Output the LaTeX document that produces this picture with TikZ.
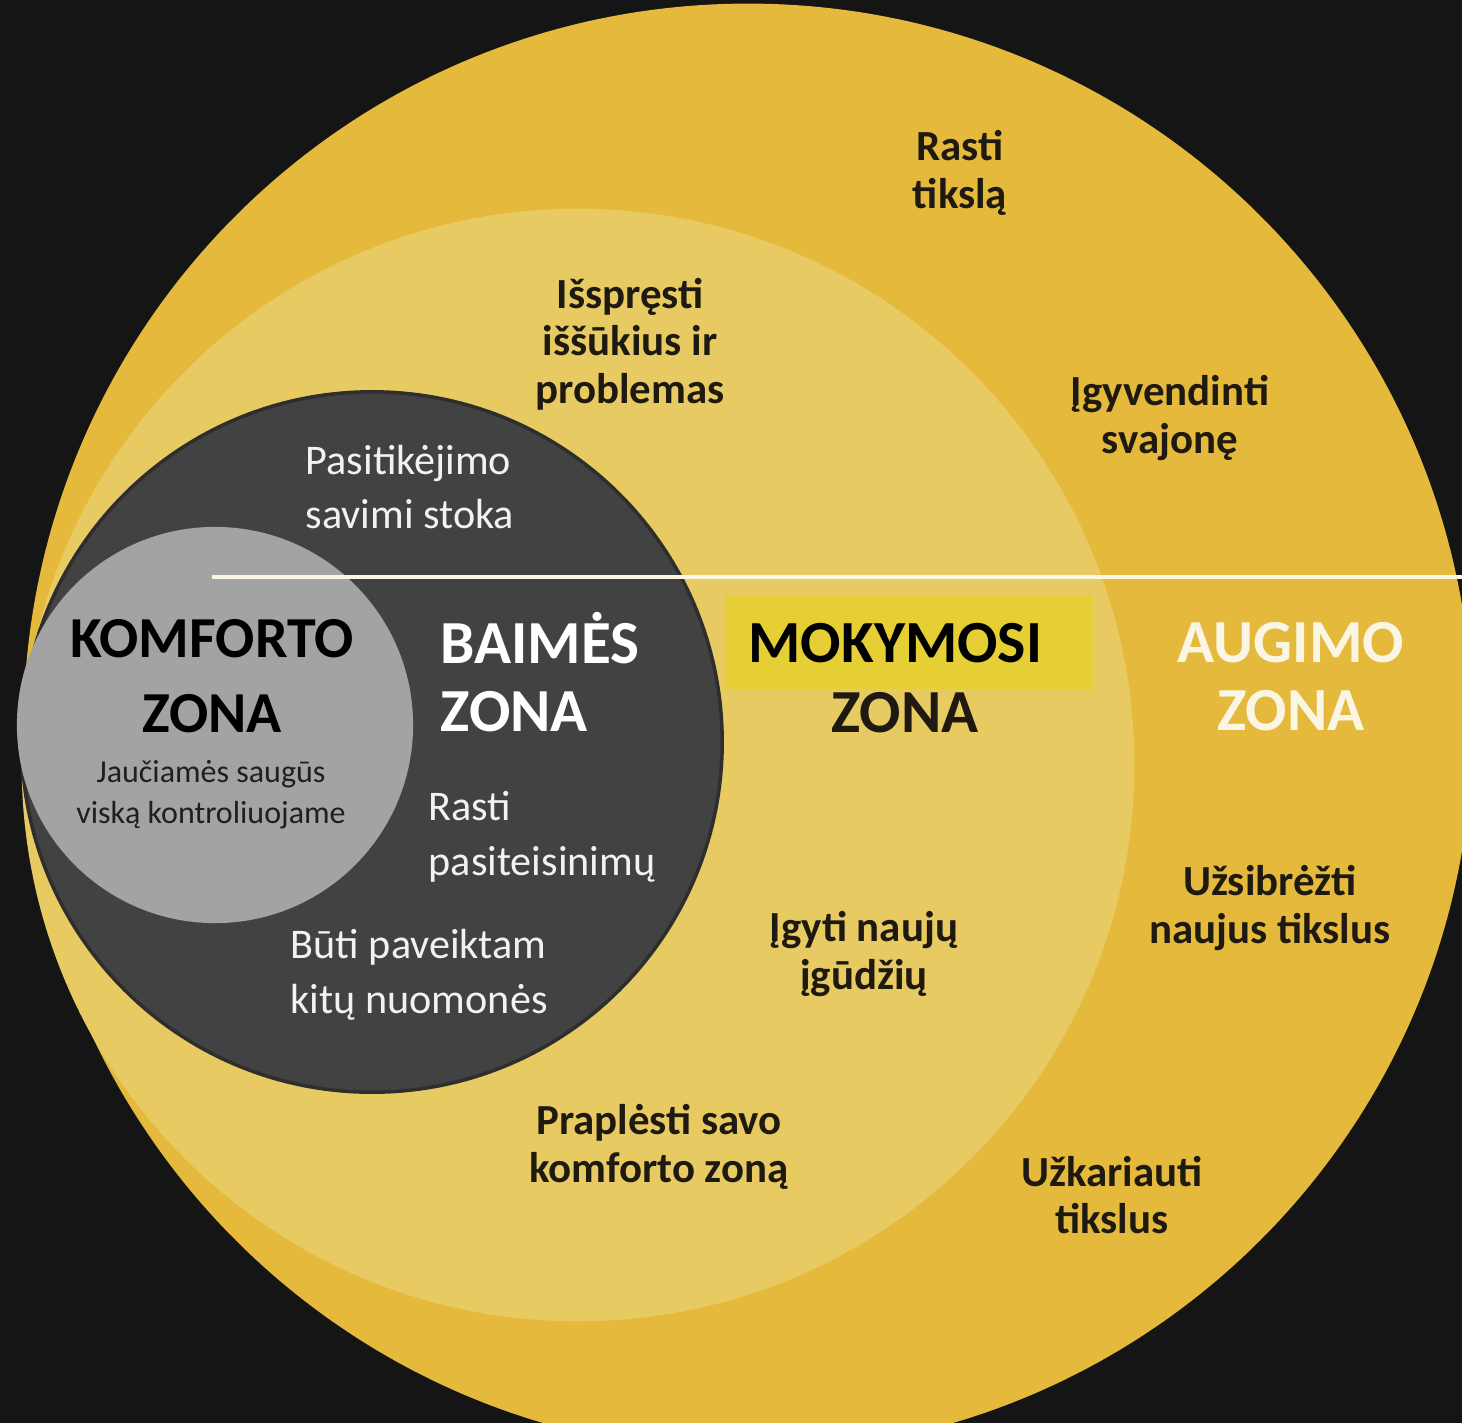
\documentclass[tikz,border=0pt]{standalone}
\usepackage{fontspec}
\setmainfont{Carlito}
\usetikzlibrary{positioning}

\definecolor{fundo}{HTML}{151515}
\definecolor{augimo}{HTML}{E5B93B}
\definecolor{mokymosi}{HTML}{E8CA62}
\definecolor{baimes}{HTML}{424242}
\definecolor{sombra}{HTML}{2E2E2E}
\definecolor{komforto}{HTML}{A3A3A3}
\definecolor{destaque}{HTML}{E6CF35}
\definecolor{tinta}{HTML}{1E1A12}
\definecolor{linha}{HTML}{FBF6E3}

\begin{document}
\begin{tikzpicture}[x=0.01cm, y=-0.01cm,
			zona/.style={circle, inner sep=0pt, draw=none},
			rotulo/.style={font=\fontsize{12.2}{13.5}\selectfont\bfseries, text=tinta, align=center},
			branco/.style={font=\fontsize{12}{15.6}\selectfont, text=white!95!black, align=left, anchor=west, inner sep=0pt},
			titulo/.style={font=\fontsize{17.4}{19.3}\selectfont\bfseries, align=center} ]
			\useasboundingbox (0,0) rectangle (1462,1423);
			\fill[fundo] (0,0) rectangle (1462,1423);
			\clip (0,0) rectangle (1462,1423);
			
			%Zonas:
			\node[zona, fill=augimo,   minimum size=14.48cm] (Z4) at (748,728) {};
			\node[zona, fill=mokymosi, minimum size=11.12cm] (Z3) at (578,765) {};
			\node[zona, fill=baimes, draw=sombra, line width=1pt, minimum size=7.00cm] (Z2) at (372,742) {};
			\node[zona, fill=komforto, minimum size=3.96cm]  (Z1) at (215,725) {};
			
			\coordinate (L1) at (212,577);
			\coordinate (L2) at (1462,577);
			\draw[linha, line width=1.2pt] (L1) -- (L2);
			
			%Titulos:
			\node[titulo, font=\fontsize{16.5}{21.3}\selectfont\bfseries, text=black] (komf) at (212,676) {KOMFORTO\\ZONA};
			\node[font=\fontsize{9.1}{11.7}\selectfont, text=black!88, align=center] (komfsub) at (211,795) {Jaučiamės saugūs\\viską kontroliuojame};
			\node[titulo, text=white, align=left, anchor=west, inner sep=0pt] (baim) at (440,672) {BAIMĖS\\ZONA};
			\node[fill=destaque, minimum width=3.67cm, minimum height=0.93cm, inner sep=0pt] (rect) at (909,642) {};
			\node[font=\fontsize{17}{19}\selectfont\bfseries, text=black, anchor=west, inner sep=0pt] (moky) at (748,643) {MOKYMOSI};
			\node[titulo, text=tinta] (mokyz) at (905,713) {ZONA};
			\node[titulo, text=linha] (aug) at (1291,677) {AUGIMO\\ZONA};
			
			%Baimes zona:
			\node[branco] (b1) at (305,487) {Pasitikėjimo\\savimi stoka};
			\node[branco] (b2) at (428,837) {Rasti\\pasiteisinimų};
			\node[branco] (b3) at (290,975) {Būti paveiktam\\kitų nuomonės};
			
			%Mokymosi zona:
			\node[rotulo] (m1) at (630,344) {Išspręsti\\iššūkius ir\\problemas};
			\node[rotulo] (m2) at (864,954) {Įgyti naujų\\įgūdžių};
			\node[rotulo] (m3) at (659,1147) {Praplėsti savo\\komforto zoną};
			
			%Augimo zona:
			\node[rotulo] (a1) at (960,173) {Rasti\\tikslą};
			\node[rotulo] (a2) at (1170,418) {Įgyvendinti\\svajonę};
			\node[rotulo] (a3) at (1270,908) {Užsibrėžti\\naujus tikslus};
			\node[rotulo] (a4) at (1112,1195) {Užkariauti\\tikslus};
		\end{tikzpicture}
\end{document}
